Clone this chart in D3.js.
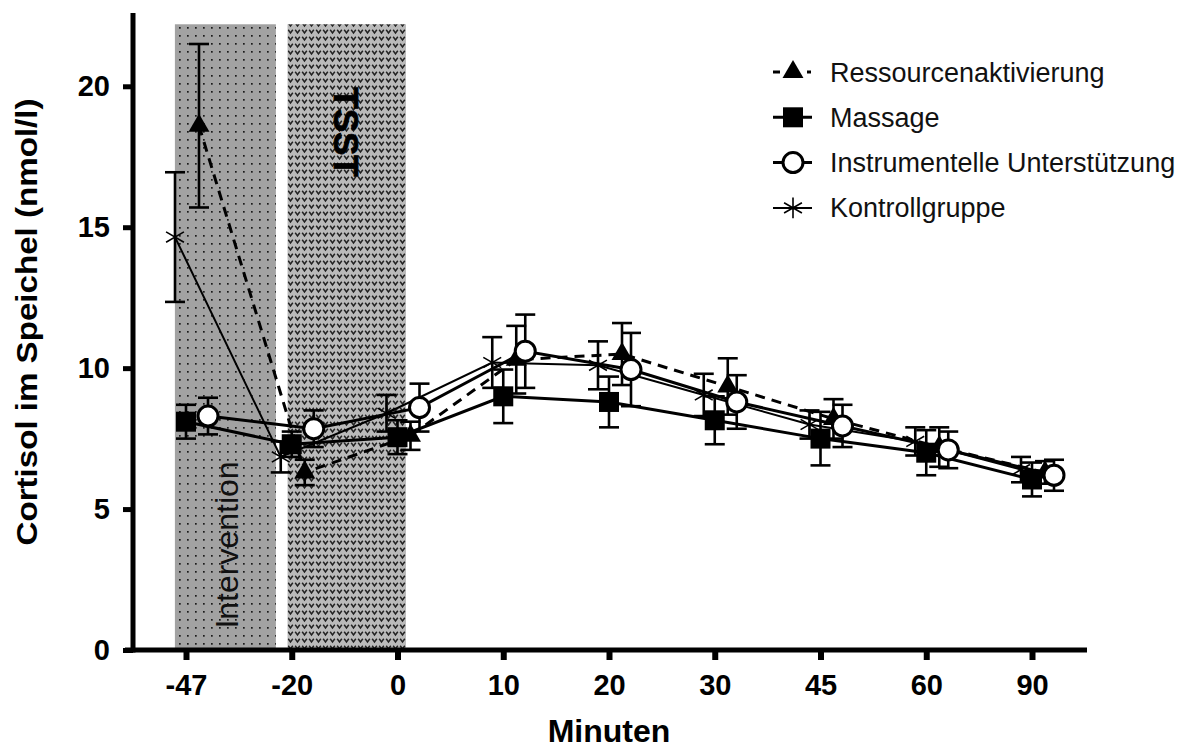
<!DOCTYPE html>
<html>
<head>
<meta charset="utf-8">
<script src="https://cdn.jsdelivr.net/npm/d3@7"></script>
<style>
  body { margin: 0; background: #fff; }
  text { font-family: "Liberation Sans", Arial, sans-serif; }
</style>
</head>
<body>
<script>
var width = 1187;
var height = 749;

// Messzeitpunkte (Minuten relativ zum TSST)
var times = ["-47", "-20", "0", "10", "20", "30", "45", "60", "90"];
var yTicks = [0, 5, 10, 15, 20];

var ressource = [18.6, 6.3, 7.6, 10.3, 10.5, 9.35, 8.2, 7.2, 6.3];
var ressourceErr = [2.9, 0.45, 0.5, 1.2, 1.1, 1.0, 0.7, 0.7, 0.4];
var massage = [8.1, 7.3, 7.55, 9.0, 8.8, 8.15, 7.5, 7.0, 6.05];
var massageErr = [0.6, 0.45, 0.6, 0.95, 0.9, 0.85, 0.95, 0.8, 0.6];
var instrumentell = [8.3, 7.85, 8.6, 10.6, 9.95, 8.8, 7.95, 7.1, 6.2];
var instrumentellErr = [0.65, 0.65, 0.85, 1.3, 1.3, 0.95, 0.75, 0.65, 0.55];
var kontroll = [14.65, 6.85, 8.4, 10.2, 10.1, 9.05, 8.0, 7.4, 6.4];
var kontrollErr = [2.3, 0.55, 0.65, 0.9, 0.85, 0.75, 0.5, 0.5, 0.45];

var seriesNames = ["Ressourcenaktivierung", "Massage", "Instrumentelle Unterstützung", "Kontrollgruppe"];

// Phasen als Positionen in Messzeitpunkt-Einheiten
var phases = [
  { label: "Intervention", from: -0.105, to: 0.85 },
  { label: "TSST", from: 0.96, to: 2.08 }
];

var svg = d3.select("body").append("svg")
    .attr("width", width)
    .attr("height", height);

var x = d3.scalePoint().domain(times).range([186, 1032]);
var y = d3.scaleLinear().domain([0, 22.6]).range([650, 13]);
var step = x.step();
var idxX = function(i) { return x(times[0]) + i * step; };

// patterns for the shaded phases
var defs = svg.append("defs");
var pDots = defs.append("pattern")
    .attr("id", "dots")
    .attr("patternUnits", "userSpaceOnUse")
    .attr("width", 8).attr("height", 8);
pDots.append("rect").attr("width", 8).attr("height", 8).attr("fill", "#a2a2a2");
pDots.append("rect").attr("x", 3).attr("y", 3).attr("width", 1.7).attr("height", 1.7).attr("fill", "#1a1a1a");

var pV = defs.append("pattern")
    .attr("id", "vees")
    .attr("patternUnits", "userSpaceOnUse")
    .attr("width", 7).attr("height", 7);
pV.append("rect").attr("width", 7).attr("height", 7).attr("fill", "#bababa");
pV.append("path").attr("d", "M1.2,1.8 L3.5,4.9 L5.8,1.8")
    .attr("fill", "none").attr("stroke", "#222").attr("stroke-width", 1.5);

var phaseG = svg.append("g").attr("class", "phases");
phaseG.selectAll("rect")
    .data(phases)
    .enter().append("rect")
    .attr("x", function(d) { return idxX(d.from); })
    .attr("width", function(d) { return idxX(d.to) - idxX(d.from); })
    .attr("y", y(22.2))
    .attr("height", y(0) - y(22.2))
    .attr("fill", function(d, i) { return i == 0 ? "url(#dots)" : "url(#vees)"; });

var pInt = phases[0], pTsst = phases[1];
phaseG.append("text")
    .attr("transform", "translate(" + [idxX((pInt.from + pInt.to) / 2) + 13, 545] + ") rotate(-90)")
    .text(pInt.label)
    .style("text-anchor", "middle")
    .style("font-size", "32px")
    .style("fill", "#111");

phaseG.append("text")
    .attr("transform", "translate(" + [idxX((pTsst.from + pTsst.to) / 2) - 13, 132] + ") rotate(90)")
    .text(pTsst.label)
    .style("text-anchor", "middle")
    .style("font-size", "35px")
    .style("font-weight", "bold")
    .style("fill", "#000")
    .style("stroke", "#000")
    .style("stroke-width", 0.8);

// axes
var xAxis = svg.append("g")
    .attr("transform", "translate(0," + y(0) + ")")
    .call(d3.axisBottom(x).tickSize(10).tickPadding(14));
xAxis.select(".domain").remove();
xAxis.selectAll(".tick line").attr("stroke", "#000").attr("stroke-width", 6);
xAxis.selectAll(".tick text")
    .style("font-size", "29px")
    .style("font-weight", "bold")
    .attr("fill", "#000");

var yAxis = svg.append("g")
    .attr("transform", "translate(133,0)")
    .call(d3.axisLeft(y).tickValues(yTicks).tickSize(10).tickPadding(13));
yAxis.select(".domain").remove();
yAxis.selectAll(".tick line").attr("stroke", "#000").attr("stroke-width", 5);
yAxis.selectAll(".tick text")
    .style("font-size", "29px")
    .style("font-weight", "bold")
    .attr("fill", "#000");

svg.append("line")
    .attr("x1", 133).attr("x2", 133)
    .attr("y1", y(22.6)).attr("y2", y(0) + 2.5)
    .attr("stroke", "#000").attr("stroke-width", 5);
svg.append("line")
    .attr("x1", 125).attr("x2", 1087)
    .attr("y1", y(0)).attr("y2", y(0))
    .attr("stroke", "#000").attr("stroke-width", 5);

svg.append("text")
    .attr("x", 609).attr("y", 742)
    .text("Minuten")
    .style("text-anchor", "middle")
    .style("font-size", "32px")
    .style("font-weight", "bold");

svg.append("text")
    .attr("transform", "translate(37,322) rotate(-90)")
    .text("Cortisol im Speichel (nmol/l)")
    .attr("textLength", 447)
    .attr("lengthAdjust", "spacingAndGlyphs")
    .style("text-anchor", "middle")
    .style("font-size", "29px")
    .style("font-weight", "bold");

// series
var series = [
  { name: seriesNames[3], values: kontroll, err: kontrollErr, offset: -11, symbol: "star", width: 2, dash: null },
  { name: seriesNames[1], values: massage, err: massageErr, offset: 0, symbol: "square", width: 3, dash: null },
  { name: seriesNames[0], values: ressource, err: ressourceErr, offset: 13, symbol: "triangle", width: 3, dash: "10,7" },
  { name: seriesNames[2], values: instrumentell, err: instrumentellErr, offset: 22, symbol: "circle", width: 3, dash: null }
];

var line = d3.line()
    .x(function(d) { return d.x; })
    .y(function(d) { return y(d.v); });

var points = function(s) {
  return s.values.map(function(v, i) {
    return { x: x(times[i]) + s.offset, v: v, e: s.err[i] };
  });
};

var drawSymbol = function(g, type, cx, cy) {
  if (type == "square") {
    g.append("rect").attr("x", cx - 10).attr("y", cy - 10).attr("width", 20).attr("height", 20).attr("fill", "#000");
  } else if (type == "triangle") {
    g.append("path")
        .attr("transform", "translate(" + [cx, cy] + ")")
        .attr("d", d3.symbol(d3.symbolTriangle, 190)())
        .attr("fill", "#000");
  } else if (type == "circle") {
    g.append("circle").attr("cx", cx).attr("cy", cy).attr("r", 10)
        .attr("fill", "#fff").attr("stroke", "#000").attr("stroke-width", 3);
  } else {
    g.append("path")
        .attr("transform", "translate(" + [cx, cy] + ")")
        .attr("d", d3.symbol(d3.symbolAsterisk, 300)())
        .attr("fill", "none").attr("stroke", "#000").attr("stroke-width", 1.6);
  }
};

var plot = svg.append("g").attr("class", "series");

series.forEach(function(s) {
  plot.append("path")
      .datum(points(s))
      .attr("d", line)
      .attr("fill", "none")
      .attr("stroke", "#000")
      .attr("stroke-width", s.width)
      .attr("stroke-dasharray", s.dash);
});

series.forEach(function(s) {
  var g = plot.append("g");
  points(s).forEach(function(p) {
    g.append("line")
        .attr("x1", p.x).attr("x2", p.x)
        .attr("y1", y(p.v - p.e)).attr("y2", y(p.v + p.e))
        .attr("stroke", "#000").attr("stroke-width", 2.6);
    [p.v - p.e, p.v + p.e].forEach(function(ev) {
      g.append("line")
          .attr("x1", p.x - 10).attr("x2", p.x + 10)
          .attr("y1", y(ev)).attr("y2", y(ev))
          .attr("stroke", "#000").attr("stroke-width", 2.6);
    });
  });
});

series.forEach(function(s) {
  var g = plot.append("g");
  points(s).forEach(function(p) {
    drawSymbol(g, s.symbol, p.x, y(p.v));
  });
});

// legend
var legendOrder = [series[2], series[1], series[3], series[0]];
var legend = svg.append("g").attr("class", "legend");
legendOrder.forEach(function(s, i) {
  var cy = 72 + i * 45.3;
  var g = legend.append("g");
  if (s.dash) {
    g.append("line").attr("x1", 773).attr("x2", 780).attr("y1", cy).attr("y2", cy)
        .attr("stroke", "#000").attr("stroke-width", 3);
    g.append("line").attr("x1", 807).attr("x2", 811).attr("y1", cy).attr("y2", cy)
        .attr("stroke", "#000").attr("stroke-width", 3);
  } else {
    g.append("line").attr("x1", 773).attr("x2", 812).attr("y1", cy).attr("y2", cy)
        .attr("stroke", "#000").attr("stroke-width", s.width);
  }
  drawSymbol(g, s.symbol, 793, cy);
  g.append("text")
      .attr("x", 830).attr("y", cy + 9.5)
      .text(s.name)
      .style("font-size", "27px")
      .style("fill", "#111");
});
</script>
</body>
</html>
